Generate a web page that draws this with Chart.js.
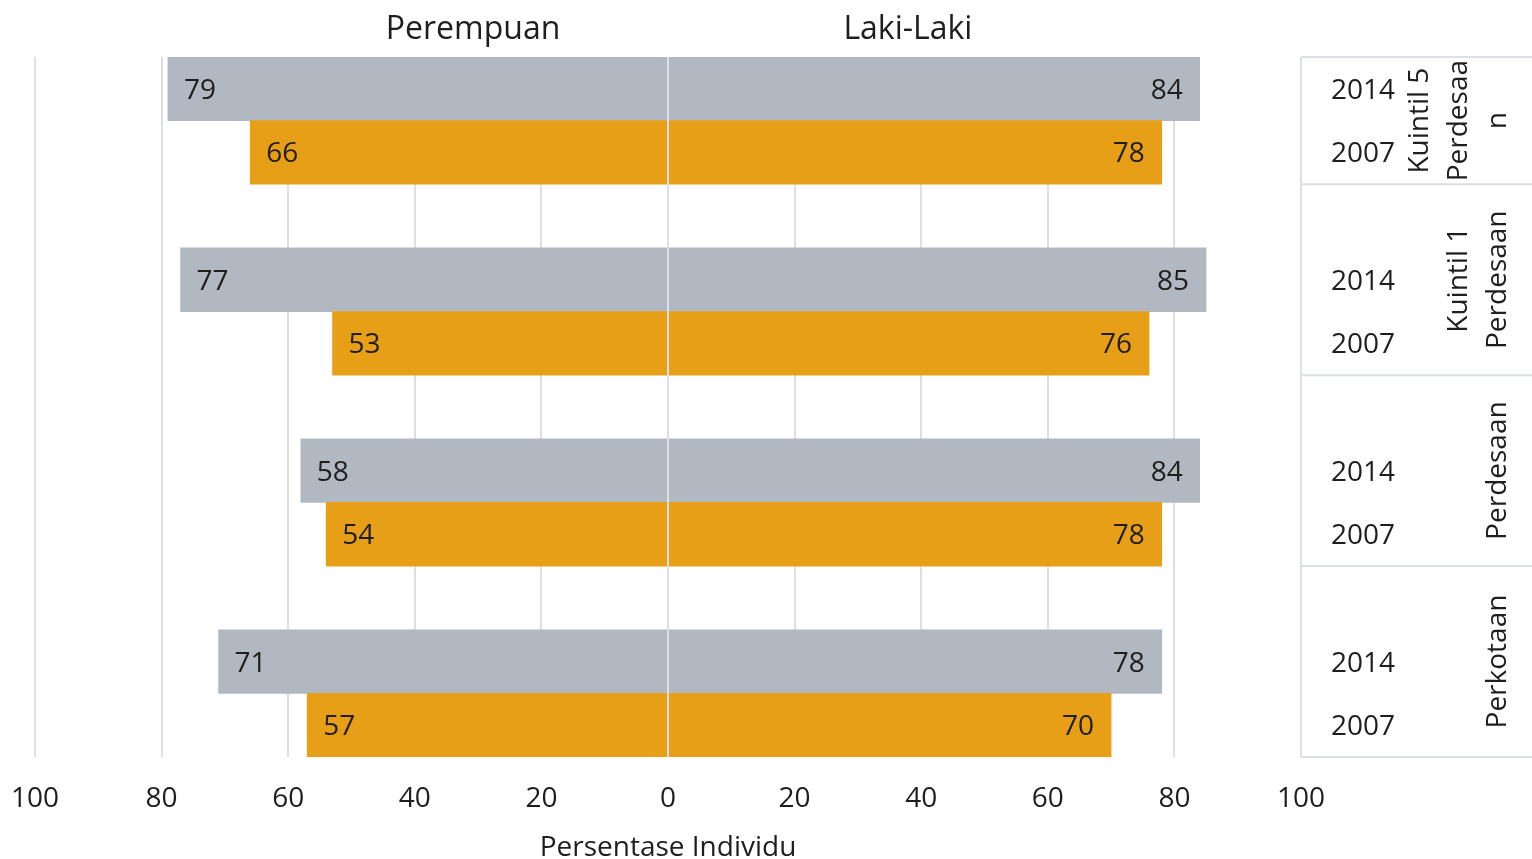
<!DOCTYPE html>
<html>
<head>
<meta charset="utf-8">
<script src="https://cdn.jsdelivr.net/npm/chart.js@4/dist/chart.umd.min.js"></script>
<style>
  html, body { margin: 0; padding: 0; background: #fff; }
  #wrap { width: 1532px; height: 859px; position: relative; }
</style>
</head>
<body>
<div id="wrap"><canvas id="chart"></canvas></div>
<script>
// Groups listed top to bottom, each with a 2014 and a 2007 row
const groups      = [['Kuintil 5', 'Perdesaa', 'n'], ['Kuintil 1', 'Perdesaan'], ['Perdesaan'], ['Perkotaan']];
const years       = ['2014', '2007'];
const female2014  = [79, 77, 58, 71];
const female2007  = [66, 53, 54, 57];
const male2014    = [84, 85, 84, 78];
const male2007    = [78, 76, 78, 70];
const xTicks      = [-100, -80, -60, -40, -20, 0, 20, 40, 60, 80, 100];

const FONT  = 'Open Sans, sans-serif';
const INK   = '#1e1e1e';
const GREY  = '#B1B8C1';
const ORANGE = '#E89F18';
const LINE  = '#DCE0E5';

// ── Row layout: a spacer row between groups, then 2014 and 2007 ─────────
const rowLabels = [], femaleRows = [], maleRows = [], rowColors = [];
groups.forEach((g, i) => {
  if (i > 0) {
    rowLabels.push(''); femaleRows.push(null); maleRows.push(null); rowColors.push(GREY);
  }
  rowLabels.push(years[0]); femaleRows.push(-female2014[i]); maleRows.push(male2014[i]); rowColors.push(GREY);
  rowLabels.push(years[1]); femaleRows.push(-female2007[i]); maleRows.push(male2007[i]); rowColors.push(ORANGE);
});

// Value labels inside the bar ends, zero axis line, and the right-hand category panel
const extras = {
  id: 'extras',
  afterDatasetsDraw(chart) {
    const { ctx, chartArea: a, scales: { x, y } } = chart;
    ctx.save();

    // zero axis drawn over the bars
    ctx.strokeStyle = LINE;
    ctx.lineWidth = 2;
    ctx.beginPath();
    ctx.moveTo(x.getPixelForValue(0), a.top);
    ctx.lineTo(x.getPixelForValue(0), a.bottom);
    ctx.stroke();

    ctx.font = `28px ${FONT}`;
    ctx.fillStyle = INK;
    ctx.textBaseline = 'middle';
    chart.data.datasets.forEach((ds, di) => {
      chart.getDatasetMeta(di).data.forEach((bar, i) => {
        const v = ds.data[i];
        if (v == null) return;
        if (v < 0) {
          ctx.textAlign = 'left';
          ctx.fillText(String(Math.abs(v)), bar.x + 16, bar.y + 2);
        } else {
          ctx.textAlign = 'right';
          ctx.fillText(String(v), bar.x - 17, bar.y + 2);
        }
      });
    });

    // right panel: group separators
    const rowH = y.getPixelForValue(1) - y.getPixelForValue(0);
    const left = a.right, right = chart.width;
    ctx.strokeStyle = LINE;
    ctx.beginPath();
    ctx.moveTo(left, a.top); ctx.lineTo(right, a.top);
    groups.forEach((g, gi) => {
      const yb = y.getPixelForValue(gi * 3 + 1) + rowH / 2;
      ctx.moveTo(left, yb); ctx.lineTo(right, yb);
    });
    ctx.stroke();

    // year labels
    ctx.textAlign = 'center';
    rowLabels.forEach((lab, i) => {
      if (lab) ctx.fillText(lab, 1363, y.getPixelForValue(i) + 2);
    });

    // rotated group names, lines stacked towards the right edge
    groups.forEach((lines, gi) => {
      const top = Math.max(a.top, y.getPixelForValue(gi * 3 - 1) - rowH / 2);
      const bot = y.getPixelForValue(gi * 3 + 1) + rowH / 2;
      const cy = (top + bot) / 2;
      lines.forEach((txt, li) => {
        const cx = 1498 - (lines.length - 1 - li) * 39;
        ctx.save();
        ctx.translate(cx, cy);
        ctx.rotate(-Math.PI / 2);
        ctx.textAlign = 'center';
        ctx.fillText(txt, 0, 0);
        ctx.restore();
      });
    });

    // gender headers
    ctx.font = `32px ${FONT}`;
    ctx.textAlign = 'center';
    ctx.fillText('Perempuan', x.getPixelForValue(-30.8), 30);
    ctx.fillText('Laki-Laki', x.getPixelForValue(37.9), 30);

    ctx.restore();
  }
};

new Chart(document.getElementById('chart'), {
  type: 'bar',
  data: {
    labels: rowLabels,
    datasets: [
      { label: 'Perempuan', data: femaleRows, backgroundColor: rowColors, barPercentage: 1, categoryPercentage: 1, borderWidth: 0 },
      { label: 'Laki-Laki', data: maleRows,   backgroundColor: rowColors, barPercentage: 1, categoryPercentage: 1, borderWidth: 0 },
    ],
  },
  options: {
    indexAxis: 'y',
    responsive: true,
    maintainAspectRatio: false,
    animation: false,
    layout: { padding: { left: 35, right: 231, top: 57, bottom: 0 } },
    scales: {
      x: {
        type: 'linear',
        stacked: true,
        min: -100, max: 100,
        afterBuildTicks: s => { s.ticks = xTicks.map(v => ({ value: v })); },
        afterFit: s => { s.height = 102; s.paddingLeft = 0; s.paddingRight = 0; },
        ticks: {
          color: INK,
          font: { family: FONT, size: 28 },
          padding: 25,
          callback: v => Math.abs(v),
        },
        grid: { color: LINE, lineWidth: 2, drawTicks: false },
        border: { display: false },
        title: {
          display: true,
          text: 'Persentase Individu',
          color: INK,
          font: { family: FONT, size: 28 },
          padding: { top: 0, bottom: -6 },
        },
      },
      y: {
        type: 'category',
        stacked: true,
        display: false,
      },
    },
    plugins: {
      legend: { display: false },
      tooltip: { enabled: false },
    },
  },
  plugins: [extras],
});
</script>
</body>
</html>
